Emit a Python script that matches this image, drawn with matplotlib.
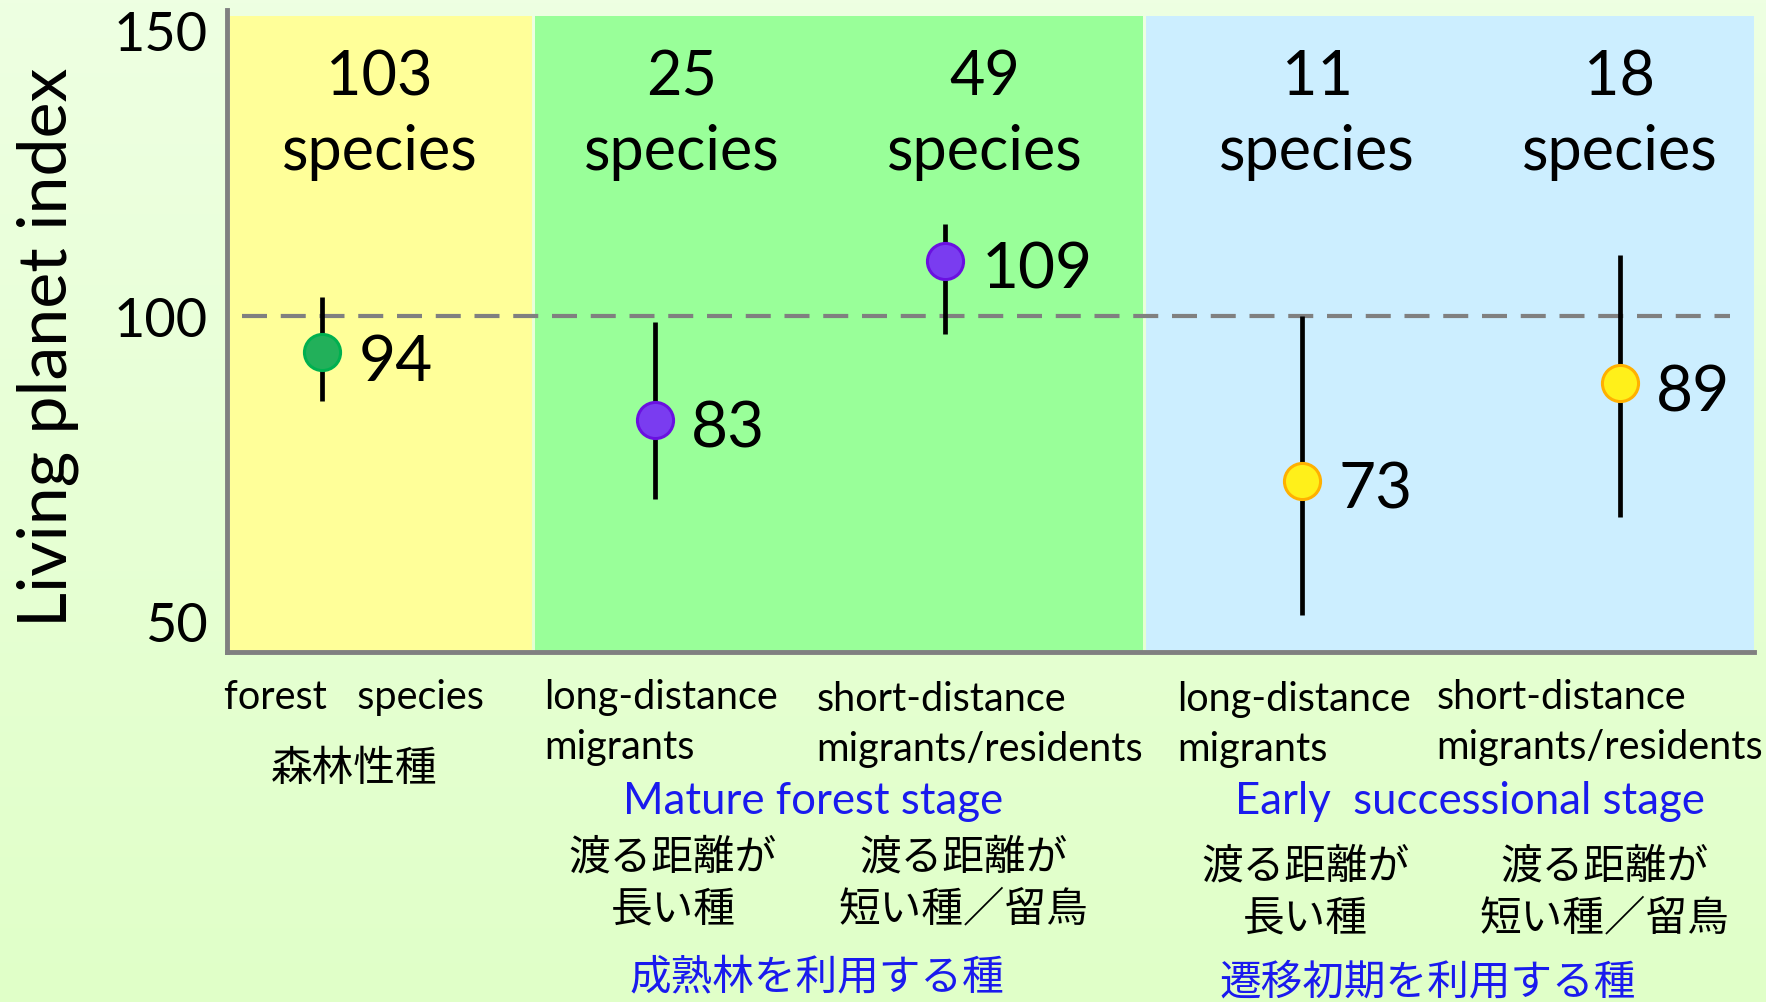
import numpy as np
import matplotlib
matplotlib.use("Agg")
import matplotlib.pyplot as plt
from matplotlib.transforms import blended_transform_factory

plt.rcParams['font.family'] = ['Lato', 'Noto Sans CJK JP', 'DejaVu Sans']

# ---- data ----
lpi_values = [94, 83, 109, 73, 89]
ci_low = [86, 70, 97, 51, 67]
ci_high = [103, 99, 115, 100, 110]
species_counts = [103, 25, 49, 11, 18]
group_en = ["forest   species", "long-distance\nmigrants", "short-distance\nmigrants/residents",
            "long-distance\nmigrants", "short-distance\nmigrants/residents"]
stage_en = ["Mature forest stage", "Early  successional stage"]
stage_ja = ["成熟林を利用する種", "遷移初期を利用する種"]
forest_ja = "森林性種"
group_ja = ["渡る距離が\n長い種", "渡る距離が\n短い種／留鳥", "渡る距離が\n長い種", "渡る距離が\n短い種／留鳥"]
yticks = [50, 100, 150]
reference = 100

# ---- styling / layout ----
x_pos = [0.31, 1.40, 2.35, 3.52, 4.56]
x_count = [0.50, 1.49, 2.48, 3.57, 4.56]
marker_face = ["#22b05a", "#7a3cf0", "#fff01a"]
marker_edge = ["#00b050", "#6a10e0", "#ffb000"]
marker_idx = [0, 1, 1, 2, 2]
panels = [(0, 1, "#ffff99"), (1, 3, "#99ff99"), (3, 5, "#cceeff")]

W, H = 1766, 1003
fig = plt.figure(figsize=(W / 100, H / 100), dpi=100)

# gradient background
bg = fig.add_axes([0, 0, 1, 1], zorder=-10)
grad = np.linspace(0, 1, 256).reshape(-1, 1)
top = np.array([0xee, 0xff, 0xe2]) / 255
bot = np.array([0xe0, 0xff, 0xc8]) / 255
img = top[None, None, :] * (1 - grad[:, :, None]) + bot[None, None, :] * grad[:, :, None]
bg.imshow(img, aspect='auto', extent=[0, 1, 0, 1])
bg.set_axis_off()

ax = fig.add_axes([227 / W, 1 - 653 / H, (1754 - 227) / W, (653 - 11) / H])
ax.set_facecolor('none')
ax.set_xlim(0, 5)
ax.set_ylim(45, 150)

for x0, x1, c in panels:
    ax.axvspan(x0 + 0.01, x1, ymin=0, ymax=0.99, color=c, zorder=0, lw=0)

ax.plot([0.05, 4.92], [reference, reference], color="#808080", lw=3,
        dashes=(6, 3.3), zorder=1)

for i, v in enumerate(lpi_values):
    ax.plot([x_pos[i], x_pos[i]], [ci_low[i], ci_high[i]], color='black', lw=3.4,
            solid_capstyle='butt', zorder=2)
    m = marker_idx[i]
    ax.plot(x_pos[i], v, 'o', ms=26, mfc=marker_face[m], mec=marker_edge[m], mew=2.2, zorder=3)
    ax.text(x_pos[i] + 0.12, v - 1.5, str(v), fontsize=46, va='center', ha='left', zorder=4)

for i, n in enumerate(species_counts):
    ax.text(x_count[i], 133, f"{n}\nspecies", fontsize=44, ha='center', va='center',
            linespacing=1.38, zorder=4)

ax.set_yticks(yticks)
ax.set_yticklabels([str(t) for t in yticks], fontsize=39)
ax.set_xticks([])
ax.tick_params(axis='y', length=0, pad=14)
ylabels = ax.get_yticklabels()
ylabels[-1].set_va('top')
for s in ['top', 'right']:
    ax.spines[s].set_visible(False)
for s in ['left', 'bottom']:
    ax.spines[s].set_color('#808080')
    ax.spines[s].set_linewidth(3.5)

fig.text(0.027, 0.654, "Living planet index", rotation=90, fontsize=49,
         ha='center', va='center')

tr = blended_transform_factory(ax.transData, fig.transFigure)
en_left = [-0.01, 1.04, 1.93, 3.11, 3.96]
en_y = [0.305, 0.305, 0.303, 0.303, 0.305]
for i, t in enumerate(group_en):
    lines = t.split("\n")
    for j, ln in enumerate(lines):
        fig.text(en_left[i], en_y[i] - j * 0.05, ln, transform=tr, fontsize=28.5,
                 ha='left', va='center')

fig.text(0.417, 0.233, forest_ja, transform=tr, fontsize=30, ha='center', va='center',
         family=['Noto Sans CJK JP'])

stage_x = [1.92, 4.07]
for i, t in enumerate(stage_en):
    fig.text(stage_x[i], 0.2005, t, transform=tr, fontsize=31.5, ha='center', va='center',
             color='#1a1aee')
stage_ja_x = [1.93, 3.93]
stage_ja_y = [0.0253, 0.0197]
for i, t in enumerate(stage_ja):
    fig.text(stage_ja_x[i], stage_ja_y[i], t, transform=tr, fontsize=30, ha='center',
             va='center', color='#1a1aee', family=['Noto Sans CJK JP'])

ja_x = [1.46, 2.41, 3.53, 4.51]
ja_y = [0.1443, 0.1443, 0.1354, 0.1354]
for i, t in enumerate(group_ja):
    for j, ln in enumerate(t.split("\n")):
        fig.text(ja_x[i], ja_y[i] - j * 0.0513, ln, transform=tr, fontsize=30,
                 ha='center', va='center', family=['Noto Sans CJK JP'])

fig.savefig("out.png", dpi=100)
